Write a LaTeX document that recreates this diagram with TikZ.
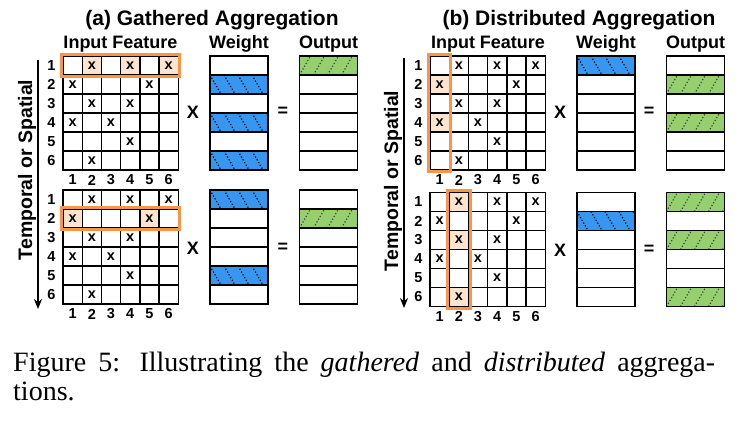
\documentclass[tikz,border=0pt]{standalone}
\usepackage{fontspec}
\setsansfont{Liberation Sans}
\newfontfamily\capfont{Liberation Serif}
\usetikzlibrary{arrows.meta}

\definecolor{hlorange}{RGB}{247,150,70}
\definecolor{peach}{RGB}{252,228,206}
\definecolor{wblue}{RGB}{55,150,240}
\definecolor{ogreen}{RGB}{150,208,110}

\tikzset{
  cell/.style={draw, line width=1.4pt, minimum width=19.2pt, minimum height=19pt, inner sep=0pt},
  vcell/.style={cell, minimum width=58pt},
  num/.style={font=\sffamily\bfseries\fontsize{14.5}{16}\selectfont, inner sep=0pt},
  hd/.style={font=\sffamily\bfseries\fontsize{18}{20}\selectfont, inner sep=0pt, anchor=base},
  ttl/.style={font=\sffamily\bfseries\fontsize{21}{24}\selectfont, inner sep=0pt, anchor=base},
  op/.style={font=\sffamily\bfseries\fontsize{18}{20}\selectfont, inner sep=0pt},
  hl/.style={draw=hlorange, line width=3pt},
  dots/.style={line width=1.2pt, dash pattern=on 1.2pt off 2pt},
  bluerow/.style={fill=wblue, path picture={
    \foreach \k in {-1,...,4}
      \draw[dots] ([xshift=\k*14pt]path picture bounding box.north west) -- ++(11pt,-19pt);}},
  greenrow/.style={fill=ogreen, path picture={
    \foreach \k in {-1,...,4}
      \draw[dots, black!75] ([xshift=\k*14pt]path picture bounding box.south west) -- ++(11pt,19pt);}},
  axis/.style={line width=1.2pt, -{Stealth[length=10pt, width=8pt]}},
  capt/.style={anchor=base west, inner sep=0pt, font=\capfont\fontsize{28}{29}\selectfont},
}

% input feature grid: name, left, top, highlighted cells
\newcommand\inmat[4]{%
  \foreach \r/\c in {#4}
    \fill[peach] ({#2+(\c-1)*19.2},{#3+(\r-1)*19}) rectangle ++(19.2,19);
  \foreach \r in {1,...,6}{
    \node[num] (#1-r\r) at ({#2-11.5},{#3+(\r-.5)*19}) {\r};
    \node[num] (#1-c\r) at ({#2+(\r-.5)*19.2},{#3+6*19+10}) {\r};
    \foreach \c in {1,...,6}
      \node[cell] (#1-\r-\c) at ({#2+(\c-.5)*19.2},{#3+(\r-.5)*19}) {};
  }
  \foreach \r/\c in {1/2,1/4,1/6,2/1,2/5,3/2,3/4,4/1,4/3,5/4,6/2}
    \node[num] (#1-x\r\c) at (#1-\r-\c) {x};
}

% weight / output column: name, centre, top, coloured rows, style
\newcommand\vcol[5]{%
  \foreach \r in {1,...,6}
    \node[vcell] (#1-\r) at (#2,{#3+(\r-.5)*19}) {};
  \foreach \r in {#4}
    \node[vcell,#5] (#1-f\r) at (#1-\r) {};
}

\begin{document}
\begin{tikzpicture}[x=1pt, y=-1pt]
\useasboundingbox (0,0) rectangle (739,430);

% (a)
\node[ttl] (ta) at (212,26) {(a) Gathered Aggregation};
\node[hd] (ina) at (120.5,49) {Input Feature};
\node[hd] (wa) at (239,49) {Weight};
\node[hd] (oa) at (328.5,49) {Output};
\inmat{a1}{63}{56}{1/2,1/4,1/6}
\inmat{a2}{63}{190}{2/1,2/5}
\vcol{wa1}{239}{56}{2,4,6}{bluerow}
\vcol{oa1}{328.5}{56}{1}{greenrow}
\vcol{wa2}{239}{190}{1,5}{bluerow}
\vcol{oa2}{328.5}{190}{2}{greenrow}
\draw[hl] ([shift={(-1pt,1pt)}]a1-1-1.north west) rectangle ([shift={(1pt,-1pt)}]a1-1-6.south east);
\draw[hl] ([shift={(-1pt,1pt)}]a2-2-1.north west) rectangle ([shift={(1pt,-1pt)}]a2-2-6.south east);
\node[op] (xa1) at (193,112) {X};
\node[op] (ea1) at (283,112) {=};
\node[op] (xa2) at (193,248) {X};
\node[op] (ea2) at (283,248) {=};
\coordinate (la0) at (38,60);
\coordinate (la1) at (38,309);
\draw[axis] (la0) -- (la1);
\node[hd, rotate=90, font=\sffamily\bfseries\fontsize{19.5}{21}\selectfont] (lat) at (32,170) {Temporal or Spatial};

% (b)
\node[ttl] (tb) at (579,26) {(b) Distributed Aggregation};
\node[hd] (inb) at (488,49) {Input Feature};
\node[hd] (wb) at (606,49) {Weight};
\node[hd] (ob) at (695.5,49) {Output};
\inmat{b1}{430}{56}{2/1,4/1}
\inmat{b2}{430}{192.5}{1/2,3/2,6/2}
\vcol{wb1}{606}{56}{1}{bluerow}
\vcol{ob1}{695.5}{56}{2,4}{greenrow}
\vcol{wb2}{606}{192.5}{2}{bluerow}
\vcol{ob2}{695.5}{192.5}{1,3,6}{greenrow}
\draw[hl] ([shift={(-1pt,1pt)}]b1-1-1.north west) rectangle ([shift={(1pt,-1pt)}]b1-6-1.south east);
\draw[hl] ([shift={(-1pt,1pt)}]b2-1-2.north west) rectangle ([shift={(1pt,-1pt)}]b2-6-2.south east);
\node[op] (xb1) at (560,112) {X};
\node[op] (eb1) at (649,112) {=};
\node[op] (xb2) at (560,250) {X};
\node[op] (eb2) at (649,250) {=};
\coordinate (lb0) at (404,58);
\coordinate (lb1) at (404,308);
\draw[axis] (lb0) -- (lb1);
\node[hd, rotate=90, font=\sffamily\bfseries\fontsize{19.5}{21}\selectfont] (lbt) at (398,181) {Temporal or Spatial};

% caption
\node[capt] (cap1) at (13,371)
  {\makebox[702pt][s]{Figure 5: Illustrating the \textit{gathered} and \textit{distributed} aggrega-}};
\node[capt] (cap2) at (13,400) {tions.};
\end{tikzpicture}
\end{document}
